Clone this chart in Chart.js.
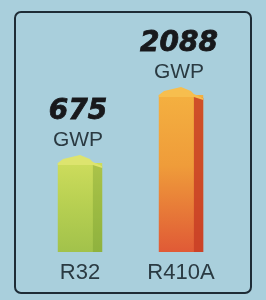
<!DOCTYPE html>
<html>
<head>
<meta charset="utf-8">
<script src="https://cdn.jsdelivr.net/npm/chart.js@4"></script>
<style>
    html, body { margin: 0; padding: 0; background: #a9cfdc; }
    #wrap { position: relative; width: 266px; height: 300px; overflow: hidden; }
    #frame {
        position: absolute; left: 14px; top: 11px; width: 238px; height: 283px;
        box-sizing: border-box; border: 2px solid #1e2c36; border-radius: 7px;
    }
    #chart { position: absolute; left: 0; top: 0; }
</style>
</head>
<body>
<div id="wrap">
    <div id="frame"></div>
    <canvas id="chart" width="266" height="300"></canvas>
</div>
<script>
// Chart data
const refrigerants = ['R32', 'R410A'];
const gwpValues = [675, 2088];
const unitLabel = 'GWP';

// Bar colours (top, middle, bottom of the front face; side face; roof)
const faceTop = ['#cddc5c', '#f4b040'];
const faceMid = ['#b8d052', '#ef9c3a'];
const faceBottom = ['#a2c24b', '#e05a36'];
const sideColors = ['rgba(110,150,40,0.35)', 'rgba(200,62,36,0.85)'];
const roofColors = ['#dde46e', '#f7be4e'];

// Bars in the picture are not drawn from zero
const axisMin = -1175;
const axisMax = 3646;

function faceGradient(context) {
    const chart = context.chart;
    const i = context.dataIndex;
    if (!chart.chartArea || context.parsed == null) return faceMid[i] || '#999';
    const yScale = chart.scales.y;
    const top = yScale.getPixelForValue(context.parsed.y);
    const bottom = yScale.getPixelForValue(axisMin);
    const g = chart.ctx.createLinearGradient(0, top, 0, bottom);
    g.addColorStop(0, faceTop[i]);
    g.addColorStop(0.45, faceMid[i]);
    g.addColorStop(1, faceBottom[i]);
    return g;
}

// Draws the 3D side, the roof and the value labels over each bar
const barDecor = {
    id: 'barDecor',
    afterDatasetsDraw(chart) {
        const ctx = chart.ctx;
        const meta = chart.getDatasetMeta(0);
        meta.data.forEach((bar, i) => {
            const { x, y, base, width } = bar.getProps(['x', 'y', 'base', 'width'], true);
            const left = x - width / 2;
            const right = x + width / 2;
            const side = width * 0.21;

            ctx.save();
            // side face
            ctx.fillStyle = sideColors[i];
            ctx.beginPath();
            ctx.moveTo(right - side, y);
            ctx.lineTo(right, y + 3);
            ctx.lineTo(right, base);
            ctx.lineTo(right - side, base);
            ctx.closePath();
            ctx.fill();

            // roof
            ctx.fillStyle = roofColors[i];
            ctx.beginPath();
            ctx.moveTo(left, y);
            ctx.lineTo(left + width * 0.12, y - 4);
            ctx.lineTo(x, y - 8);
            ctx.lineTo(right - side - 3, y - 4);
            ctx.lineTo(right - side, y - 1);
            ctx.lineTo(right, y + 3);
            ctx.lineTo(right, y + 5);
            ctx.lineTo(right - side, y + 2);
            ctx.lineTo(left, y + 2);
            ctx.closePath();
            ctx.fill();

            // labels
            ctx.textAlign = 'center';
            ctx.textBaseline = 'alphabetic';
            ctx.fillStyle = '#18191c';
            ctx.strokeStyle = '#18191c';
            ctx.lineWidth = 0.8;
            ctx.font = 'italic bold 28px "DejaVu Sans"';
            ctx.fillText(String(gwpValues[i]), x - 2, y - 44);
            ctx.strokeText(String(gwpValues[i]), x - 2, y - 44);
            ctx.fillStyle = '#2a3a42';
            ctx.font = '21px "Liberation Sans"';
            ctx.fillText(unitLabel, x - 2, y - 17);
            ctx.restore();
        });
    }
};

const ctx = document.getElementById('chart').getContext('2d');
const chart = new Chart(ctx, {
    type: 'bar',
    data: {
        labels: refrigerants,
        datasets: [{
            data: gwpValues,
            base: axisMin,
            backgroundColor: faceGradient,
            borderWidth: 0,
            barPercentage: 0.44,
            categoryPercentage: 1
        }]
    },
    options: {
        responsive: false,
        animation: false,
        devicePixelRatio: 1,
        layout: {
            padding: { left: 29.5, right: 34.5, top: 20, bottom: 5.6 }
        },
        plugins: {
            legend: { display: false },
            tooltip: { enabled: false }
        },
        scales: {
            x: {
                grid: { display: false, drawTicks: false },
                border: { display: false },
                ticks: {
                    color: '#2a3a42',
                    padding: 8,
                    font: { family: 'Liberation Sans', size: 22 }
                }
            },
            y: {
                display: false,
                min: axisMin,
                max: axisMax
            }
        }
    },
    plugins: [barDecor]
});
</script>
</body>
</html>
